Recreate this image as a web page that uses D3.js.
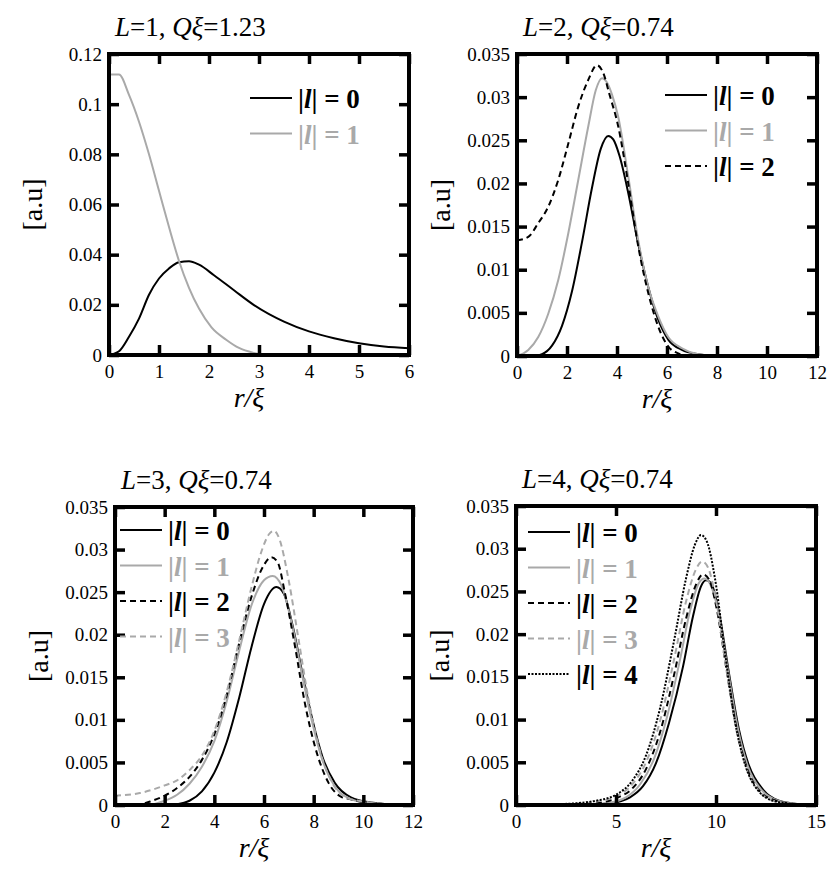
<!DOCTYPE html>
<html>
<head>
<meta charset="utf-8">
<script src="https://cdnjs.cloudflare.com/ajax/libs/d3/7.8.5/d3.min.js"></script>
<style>
body { margin: 0; background: #fff; }
svg text { font-family: 'Liberation Serif' !important; }
</style>
</head>
<body>
<svg width="830" height="889"></svg>
<script>
// panel titles
var titleL = [1, 2, 3, 4];
var titleQ = ["1.23", "0.74", "0.74", "0.74"];

// axis ticks
var p1XTicks = [0, 1, 2, 3, 4, 5, 6];
var p1YTicks = [0, 0.02, 0.04, 0.06, 0.08, 0.1, 0.12];
var p2XTicks = [0, 2, 4, 6, 8, 10, 12];
var p2YTicks = [0, 0.005, 0.01, 0.015, 0.02, 0.025, 0.03, 0.035];
var p3XTicks = [0, 2, 4, 6, 8, 10, 12];
var p3YTicks = [0, 0.005, 0.01, 0.015, 0.02, 0.025, 0.03, 0.035];
var p4XTicks = [0, 5, 10, 15];
var p4YTicks = [0, 0.005, 0.01, 0.015, 0.02, 0.025, 0.03, 0.035];

// L=1
var p1L0 = [[0,0],[0.2,0.0015],[0.4,0.0073],[0.6,0.0145],[0.8,0.024],[1.0,0.0305],[1.2,0.0345],[1.4,0.037],[1.6,0.0374],[1.8,0.036],[2.1,0.0318],[2.5,0.0258],[2.9,0.0199],[3.5,0.0133],[4.0,0.0094],[4.5,0.0067],[5.0,0.0047],[5.5,0.0034],[6.0,0.0027]];
var p1L1 = [[0,0.1118],[0.2,0.1118],[0.4,0.1037],[0.6,0.093],[0.8,0.08],[1.0,0.0655],[1.2,0.051],[1.4,0.0375],[1.6,0.0268],[1.8,0.0185],[2.05,0.011],[2.35,0.006],[2.6,0.0028],[2.9,0.0008],[3.1,0],[6,0]];

// L=2
var p2L0 = [[0,0],[0.7,0],[1.0,0.0002],[1.4,0.0012],[1.8,0.0035],[2.2,0.0075],[2.6,0.0132],[3.0,0.0195],[3.35,0.024],[3.65,0.0255],[3.85,0.0251],[4.1,0.0232],[4.45,0.0189],[4.85,0.013],[5.25,0.008],[5.65,0.0042],[6.05,0.0019],[6.6,0.0007],[7.25,0.0002],[8,0],[12,0]];
var p2L1 = [[0,0],[0.45,0.0007],[0.85,0.0022],[1.25,0.0049],[1.65,0.0088],[2.05,0.0142],[2.45,0.0204],[2.85,0.0266],[3.15,0.0308],[3.4,0.0322],[3.6,0.0317],[3.8,0.0303],[4.05,0.0277],[4.45,0.0208],[4.85,0.0134],[5.25,0.008],[5.65,0.0046],[6.05,0.0022],[6.6,0.0009],[7.25,0.0002],[8,0],[12,0]];
var p2L2 = [[0,0.0134],[0.45,0.0138],[0.85,0.0154],[1.25,0.0173],[1.65,0.0204],[2.05,0.0246],[2.45,0.0289],[2.85,0.032],[3.2,0.0337],[3.45,0.0328],[3.7,0.0303],[4.05,0.0266],[4.45,0.02],[4.85,0.0127],[5.25,0.0073],[5.65,0.0034],[6.05,0.0011],[6.45,0.0003],[6.85,0],[12,0]];

// L=3
var p3L0 = [[0,0],[2.0,0],[2.5,0.0001],[3.0,0.0005],[3.5,0.0016],[4.0,0.0038],[4.5,0.0074],[5.0,0.0126],[5.5,0.0186],[6.0,0.0236],[6.5,0.0256],[6.8,0.0248],[7.15,0.0211],[7.55,0.0154],[7.95,0.01],[8.35,0.0057],[8.85,0.0026],[9.5,0.0009],[10.3,0.0003],[11.8,0],[12,0]];
var p3L1 = [[0,0],[1.3,0],[2.0,0.0005],[2.5,0.0012],[3.0,0.0025],[3.5,0.0045],[4.0,0.0075],[4.5,0.0122],[5.0,0.0181],[5.5,0.0235],[6.0,0.0264],[6.35,0.0269],[6.7,0.0258],[7.15,0.0209],[7.55,0.0151],[7.95,0.0096],[8.35,0.0053],[8.85,0.0022],[9.5,0.0007],[10.1,0.0003],[11.8,0],[12,0]];
var p3L2 = [[0,0],[1.0,0.0001],[1.5,0.0005],[2.0,0.0011],[2.5,0.002],[3.0,0.0033],[3.5,0.0053],[4.0,0.0083],[4.5,0.0129],[5.0,0.019],[5.5,0.0245],[6.0,0.0282],[6.3,0.0291],[6.55,0.0285],[6.85,0.0248],[7.25,0.0186],[7.65,0.0119],[8.05,0.0069],[8.6,0.0026],[9.15,0.0009],[9.45,0.0007],[10.1,0.0003],[11.8,0],[12,0]];
var p3L3 = [[0,0.0011],[1.0,0.0014],[2.0,0.0023],[2.5,0.0029],[3.0,0.0041],[3.5,0.0058],[4.0,0.0087],[4.5,0.0133],[5.0,0.0193],[5.5,0.0256],[5.9,0.0298],[6.2,0.0318],[6.4,0.0322],[6.6,0.0314],[7.0,0.0263],[7.4,0.0193],[7.8,0.0123],[8.2,0.0069],[8.75,0.0026],[9.3,0.0009],[9.8,0.0005],[11.8,0],[12,0]];

// L=4
var p4L0 = [[0,0],[3.3,0],[4.7,0.0002],[5.7,0.0009],[6.35,0.0022],[7.0,0.0049],[7.65,0.0096],[8.35,0.0162],[8.85,0.0221],[9.25,0.0256],[9.5,0.0263],[9.75,0.026],[10.15,0.0225],[10.65,0.0154],[11.15,0.0088],[11.65,0.0046],[12.35,0.0018],[13.15,0.0005],[14.15,0.0001],[15,0]];
var p4L1 = [[0,0],[3.3,0],[4.5,0.0002],[5.5,0.0009],[6.2,0.0024],[6.9,0.0054],[7.55,0.0103],[8.2,0.017],[8.7,0.0227],[9.15,0.026],[9.42,0.0265],[9.7,0.0259],[10.1,0.0228],[10.6,0.0157],[11.1,0.0089],[11.6,0.0045],[12.3,0.0017],[13.1,0.0005],[14.1,0.0001],[15,0]];
var p4L2 = [[0,0],[2.5,0],[4,0.0002],[5,0.0008],[5.8,0.0019],[6.5,0.0042],[7.2,0.0085],[7.9,0.0152],[8.5,0.0218],[9.0,0.0258],[9.35,0.027],[9.65,0.0264],[10.05,0.0228],[10.55,0.0155],[11.05,0.0087],[11.55,0.0043],[12.2,0.0016],[13,0.0005],[14,0.0001],[15,0]];
var p4L3 = [[0,0],[2.5,0.0001],[4,0.0004],[5,0.001],[5.8,0.0024],[6.5,0.005],[7.2,0.0098],[7.9,0.017],[8.5,0.0238],[9.0,0.0276],[9.3,0.0285],[9.6,0.0278],[10.0,0.024],[10.5,0.0162],[11.0,0.009],[11.5,0.0044],[12.2,0.0015],[13,0.0004],[14,0.0001],[15,0]];
var p4L4 = [[0,0],[2,0.0001],[3,0.0002],[4,0.0005],[5,0.0012],[5.8,0.0028],[6.5,0.0058],[7.2,0.0113],[7.9,0.0192],[8.5,0.0265],[8.95,0.0305],[9.25,0.0316],[9.55,0.0308],[9.95,0.0265],[10.45,0.0178],[10.95,0.0098],[11.45,0.0048],[12.1,0.0017],[13,0.0004],[14,0.0001],[15,0]];

var gray = "#a9a9a9";
// line styles for |l| = 0..4
var styles = [
  {color: "#000", dash: null},
  {color: gray, dash: null},
  {color: "#000", dash: "6,4"},
  {color: gray, dash: "6,4"},
  {color: "#000", dash: "2,1.5"}
];

var panels = [
  {left: 109, top: 54, w: 300, h: 301, xd: [0, 6], yd: [0, 0.12], xt: p1XTicks, yt: p1YTicks,
   series: [p1L0, p1L1], lx: 250, ly: 98},
  {left: 517, top: 54, w: 300, h: 302, xd: [0, 12], yd: [0, 0.035], xt: p2XTicks, yt: p2YTicks,
   series: [p2L0, p2L1, p2L2], lx: 665, ly: 95},
  {left: 115, top: 507, w: 298, h: 298, xd: [0, 12], yd: [0, 0.035], xt: p3XTicks, yt: p3YTicks,
   series: [p3L0, p3L1, p3L2, p3L3], lx: 120, ly: 530},
  {left: 516, top: 506, w: 300, h: 299, xd: [0, 15], yd: [0, 0.035], xt: p4XTicks, yt: p4YTicks,
   series: [p4L0, p4L1, p4L2, p4L3, p4L4], lx: 528, ly: 532}
];

var svg = d3.select("svg");
var fmt = function(v) { return String(+v.toFixed(3)); };

panels.forEach(function(p, i) {
  var x = d3.scaleLinear().domain(p.xd).range([0, p.w]);
  var y = d3.scaleLinear().domain(p.yd).range([p.h, 0]);
  var g = svg.append("g").attr("transform", "translate(" + p.left + "," + p.top + ")");

  var line = d3.line()
      .x(function(d) { return x(d[0]); })
      .y(function(d) { return y(d[1]); })
      .curve(d3.curveMonotoneX);

  // curves
  p.series.forEach(function(s, k) {
    g.append("path")
      .attr("d", line(s))
      .attr("fill", "none")
      .attr("stroke", styles[k].color)
      .attr("stroke-width", 2)
      .attr("stroke-dasharray", styles[k].dash);
  });

  // axes, ticks pointing inward on all sides
  g.append("g").attr("transform", "translate(0," + p.h + ")")
      .call(d3.axisBottom(x).tickValues(p.xt).tickSize(-10).tickPadding(10).tickFormat(fmt));
  g.append("g")
      .call(d3.axisLeft(y).tickValues(p.yt).tickSize(-10).tickPadding(7).tickFormat(fmt));
  g.append("g").call(d3.axisTop(x).tickValues(p.xt).tickSize(-10).tickFormat(""));
  g.append("g").attr("transform", "translate(" + p.w + ",0)")
      .call(d3.axisRight(y).tickValues(p.yt).tickSize(-10).tickFormat(""));
  g.selectAll(".domain").remove();
  g.selectAll(".tick line").attr("stroke", "#000").attr("stroke-width", 3.5);
  g.selectAll(".tick text").attr("font-size", 19).attr("fill", "#000");

  // frame
  g.append("rect")
    .attr("width", p.w).attr("height", p.h)
    .attr("fill", "none").attr("stroke", "#000").attr("stroke-width", 4);

  // title
  var t = g.append("text").attr("x", 6).attr("y", -18).attr("font-size", 27);
  t.append("tspan").attr("font-style", "italic").text("L");
  t.append("tspan").text("=" + titleL[i] + ", ");
  t.append("tspan").attr("font-style", "italic").text("Q\u03BE");
  t.append("tspan").text("=" + titleQ[i]);

  // x label
  g.append("text")
    .attr("x", p.w / 2 - 10).attr("y", p.h + 52)
    .attr("text-anchor", "middle").attr("font-size", 28).attr("font-style", "italic")
    .text("r/\u03BE");

  // y label
  g.append("text")
    .attr("transform", "translate(-67," + (p.h / 2) + ") rotate(-90)")
    .attr("text-anchor", "middle").attr("font-size", 28)
    .text("[a.u]");

  // legend
  var lg = svg.append("g").attr("transform", "translate(" + p.lx + "," + p.ly + ")");
  p.series.forEach(function(s, k) {
    var row = lg.append("g").attr("transform", "translate(0," + (k * 35.5) + ")");
    row.append("line")
      .attr("x1", 0).attr("x2", 42)
      .attr("stroke", styles[k].color).attr("stroke-width", 2)
      .attr("stroke-dasharray", styles[k].dash);
    var lt = row.append("text").attr("x", 48).attr("y", 10)
      .attr("font-size", 27).attr("font-weight", "bold").attr("fill", styles[k].color);
    lt.append("tspan").text("|");
    lt.append("tspan").attr("font-style", "italic").text("l");
    lt.append("tspan").text("| = " + k);
  });
});
</script>
</body>
</html>
